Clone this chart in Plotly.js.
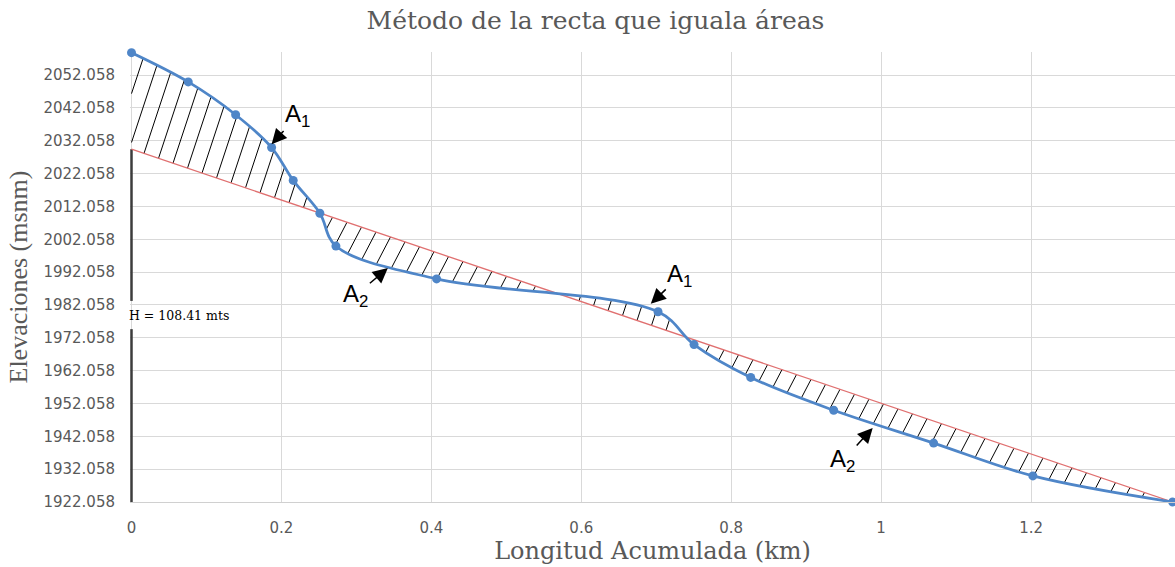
<!DOCTYPE html>
<html><head><meta charset="utf-8">
<script src="https://cdn.plot.ly/plotly-3.0.1.min.js"></script>
<style>html,body{margin:0;padding:0;background:#fff;} #chart{width:1175px;height:567px;}</style>
</head><body><div id="chart"></div>
<script>
// ---------------- data ----------------
const longitudKm  = [0, 0.0757, 0.1389, 0.1869, 0.2157, 0.2513, 0.2727, 0.4070, 0.7024, 0.7504, 0.8260, 0.9367, 1.0700, 1.2024, 1.3889];
const elevaciones = [2058.9, 2050, 2040, 2030, 2020, 2010, 2000, 1990, 1980, 1970, 1960, 1950, 1940, 1930, 1922.058];
const rectaKm   = [0, 1.3889];
const rectaElev = [2029.5, 1922.058];
const hLabel = 'H = 108.41 mts';
const hLabelElev = 1979.0;
const hGap = 4.3;
const yTickVals = [1922.058, 1932.058, 1942.058, 1952.058, 1962.058, 1972.058, 1982.058, 1992.058, 2002.058, 2012.058, 2022.058, 2032.058, 2042.058, 2052.058];
const yTickText = yTickVals.map(v => v.toFixed(3));
const xTickVals = [0, 0.2, 0.4, 0.6, 0.8, 1, 1.2];
const xTickText = ['0', '0.2', '0.4', '0.6', '0.8', '1', '1.2'];
const areaLabels = ['A<sub>1</sub>', 'A<sub>2</sub>', 'A<sub>1</sub>', 'A<sub>2</sub>'];
const areaTipKm   = [0.1869, 0.342, 0.6927, 0.9887];
const areaTipElev = [2031.0, 1993.3, 1982.4, 1944.6];
const areaOffX = [26, -32, 29, -30];
const areaOffY = [-29, 27, -28, 33];

// ---------------- geometry ----------------
const W = 1175, H = 567;
const M = {l: 130, r: 0, t: 52, b: 65};
const xRange = [-0.002, 1.392];
const yRange = [1922.058, 2059.1];
const pw = W - M.l - M.r, ph = H - M.t - M.b;
const toPx = (x, y) => [M.l + (x - xRange[0]) / (xRange[1] - xRange[0]) * pw,
                        M.t + (yRange[1] - y) / (yRange[1] - yRange[0]) * ph];
const toData = (X, Y) => [xRange[0] + (X - M.l) / pw * (xRange[1] - xRange[0]),
                          yRange[1] - (Y - M.t) / ph * (yRange[1] - yRange[0])];

// replicate plotly spline (pixel space) to place hatch marks
function makeTangent(p0, p1, p2, s) {
  const d1x = p0[0]-p1[0], d1y = p0[1]-p1[1], d2x = p2[0]-p1[0], d2y = p2[1]-p1[1];
  const d1a = Math.pow(d1x*d1x + d1y*d1y, 0.25), d2a = Math.pow(d2x*d2x + d2y*d2y, 0.25);
  const numx = (d2a*d2a*d1x - d1a*d1a*d2x) * s, numy = (d2a*d2a*d1y - d1a*d1a*d2y) * s;
  const den1 = 3*d2a*(d1a+d2a), den2 = 3*d1a*(d1a+d2a);
  return [[p1[0] + (den1 && numx/den1), p1[1] + (den1 && numy/den1)],
          [p1[0] - (den2 && numx/den2), p1[1] - (den2 && numy/den2)]];
}
function splinePoly(pts, s, n) {
  const tg = [];
  for (let i = 1; i < pts.length - 1; i++) tg.push(makeTangent(pts[i-1], pts[i], pts[i+1], s));
  const out = [pts[0]];
  const quad = (a, c, b) => { for (let j = 1; j <= n; j++) { const t = j/n, u = 1-t;
    out.push([u*u*a[0] + 2*u*t*c[0] + t*t*b[0], u*u*a[1] + 2*u*t*c[1] + t*t*b[1]]); } };
  const cub = (a, c1, c2, b) => { for (let j = 1; j <= n; j++) { const t = j/n, u = 1-t;
    out.push([u*u*u*a[0] + 3*u*u*t*c1[0] + 3*u*t*t*c2[0] + t*t*t*b[0],
              u*u*u*a[1] + 3*u*u*t*c1[1] + 3*u*t*t*c2[1] + t*t*t*b[1]]); } };
  quad(pts[0], tg[0][0], pts[1]);
  for (let i = 2; i < pts.length - 1; i++) cub(pts[i-1], tg[i-2][1], tg[i-1][0], pts[i]);
  quad(pts[pts.length-2], tg[pts.length-3][1], pts[pts.length-1]);
  return out;
}
const bluePx = longitudKm.map((x, i) => toPx(x, elevaciones[i]));
const poly = splinePoly(bluePx, 1, 40);
const R0 = toPx(rectaKm[0], rectaElev[0]), R1 = toPx(rectaKm[1], rectaElev[1]);
const redYAt = X => R0[1] + (X - R0[0]) / (R1[0] - R0[0]) * (R1[1] - R0[1]);
function blueHit(k, c) {
  for (let i = 0; i < poly.length - 1; i++) {
    const f0 = poly[i][0] + k*poly[i][1] - c, f1 = poly[i+1][0] + k*poly[i+1][1] - c;
    if (f0 === 0) return poly[i];
    if (f0 * f1 < 0) { const t = f0 / (f0 - f1);
      return [poly[i][0] + t*(poly[i+1][0]-poly[i][0]), poly[i][1] + t*(poly[i+1][1]-poly[i][1])]; }
  }
  return null;
}
const STEP = 14.5, K_UP = 0.33, K_DOWN = 0.52, MINLEN = 5;
const x0px = toPx(0, yRange[0])[0];
const hatchX = [], hatchY = [];
for (let bx = x0px - 60; bx < R1[0]; bx += STEP) {
  const B = [bx, redYAt(bx)];
  let seg = null;
  for (const k of [K_UP, K_DOWN]) {
    const A = blueHit(k, B[0] + k*B[1]);
    if (!A) continue;
    const above = A[1] < redYAt(A[0]);
    if ((k === K_UP && above) || (k === K_DOWN && !above)) { seg = [A, B]; break; }
  }
  if (!seg) continue;
  let [P, Q] = seg;
  if (P[0] < x0px && Q[0] < x0px) continue;
  if (P[0] < x0px) { const t = (x0px - Q[0]) / (P[0] - Q[0]); P = [x0px, Q[1] + t*(P[1]-Q[1])]; }
  if (Q[0] < x0px) { const t = (x0px - P[0]) / (Q[0] - P[0]); Q = [x0px, P[1] + t*(Q[1]-P[1])]; }
  if (Math.hypot(P[0]-Q[0], P[1]-Q[1]) < MINLEN) continue;
  const a = toData(P[0], P[1]), b = toData(Q[0], Q[1]);
  hatchX.push(a[0], b[0], null); hatchY.push(a[1], b[1], null);
}

// ---------------- traces ----------------
const traces = [
  {x: hatchX, y: hatchY, mode: 'lines', line: {color: '#000', width: 1}, hoverinfo: 'skip', connectgaps: false},
  {x: [0, 0, null, 0, 0], y: [yRange[0], hLabelElev - hGap, null, hLabelElev + hGap, rectaElev[0]],
   mode: 'lines', line: {color: '#3c3c3c', width: 2.5}, hoverinfo: 'skip'},
  {x: rectaKm, y: rectaElev, mode: 'lines', line: {color: '#e07070', width: 1.3}},
  {x: longitudKm, y: elevaciones, mode: 'lines+markers', cliponaxis: false,
   line: {color: '#4f86c8', width: 2.75, shape: 'spline', smoothing: 1},
   marker: {color: '#4f86c8', size: 9}}
];

const annotations = areaLabels.map((t, i) => ({
  x: areaTipKm[i], y: areaTipElev[i], xref: 'x', yref: 'y', text: t,
  showarrow: true, ax: areaOffX[i], ay: areaOffY[i], arrowhead: 2, arrowsize: 2,
  arrowwidth: 1.5, arrowcolor: '#000', standoff: 0,
  font: {family: 'Liberation Sans, Arial', size: 24, color: '#000'}
}));
annotations.push({x: 0, y: hLabelElev, xref: 'x', yref: 'y', text: hLabel, showarrow: false,
  xanchor: 'left', yanchor: 'middle', xshift: -5,
  font: {family: 'DejaVu Serif', size: 12.5, color: '#000'}});

const layout = {
  width: W, height: H, margin: M, showlegend: false,
  paper_bgcolor: '#fff', plot_bgcolor: '#fff',
  title: {text: 'Método de la recta que iguala áreas', x: 595.5/W, xref: 'container', xanchor: 'center',
          y: 1 - 20/H, yref: 'container', yanchor: 'middle',
          font: {family: 'DejaVu Serif', size: 25, color: '#595959'}},
  xaxis: {range: xRange, tickvals: xTickVals, ticktext: xTickText, showgrid: true, gridcolor: '#d9d9d9',
          gridwidth: 1, zeroline: false, showline: true, linecolor: '#d0d0d0', linewidth: 1,
          ticks: '', ticklabelstandoff: 12,
          tickfont: {family: 'DejaVu Sans', size: 15, color: '#595959'},
          title: {text: 'Longitud Acumulada (km)', standoff: 6,
                  font: {family: 'DejaVu Serif', size: 24, color: '#595959'}}},
  yaxis: {range: yRange, tickvals: yTickVals, ticktext: yTickText, showgrid: true, gridcolor: '#d9d9d9',
          gridwidth: 1, zeroline: false, showline: false, ticks: '', ticklabelstandoff: 14,
          tickfont: {family: 'DejaVu Sans', size: 15, color: '#595959'},
          title: {text: 'Elevaciones (msnm)', standoff: 8,
                  font: {family: 'Liberation Serif, Times New Roman', size: 26, color: '#595959'}}},
  annotations: annotations
};
Plotly.newPlot('chart', traces, layout, {displayModeBar: false, staticPlot: true});
</script>
</body></html>
